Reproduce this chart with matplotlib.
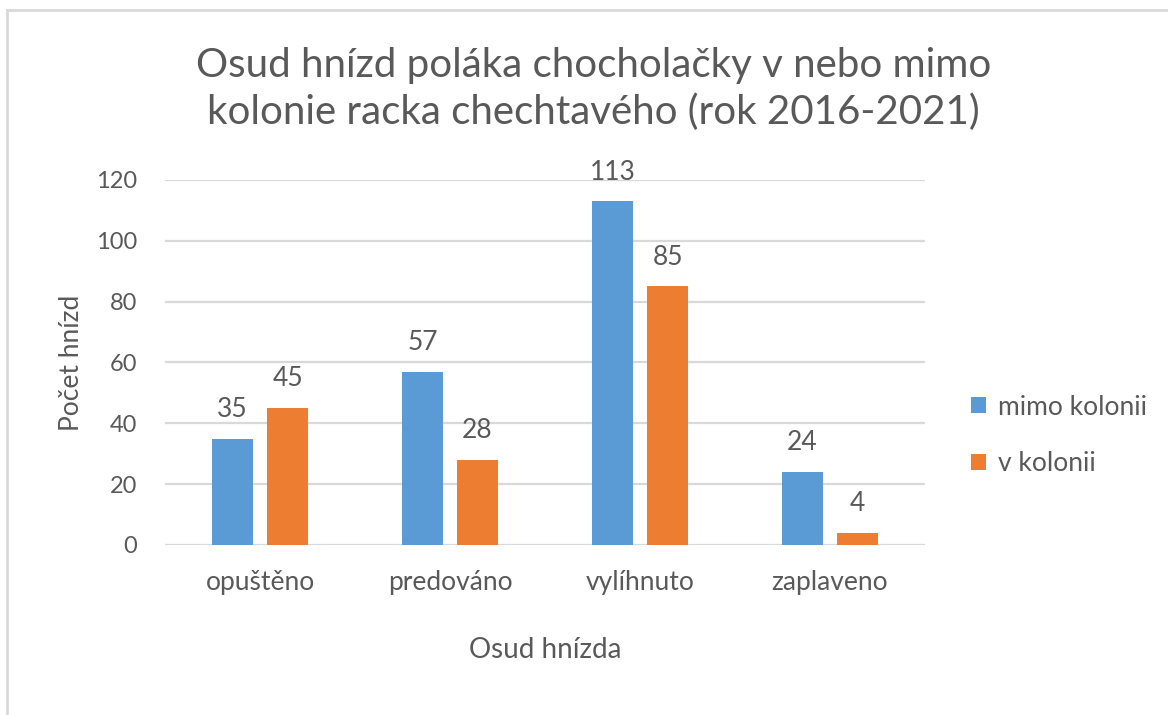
import matplotlib.pyplot as plt
import numpy as np
from matplotlib.lines import Line2D

# --- data ---
categories = ["opuštěno", "predováno", "vylíhnuto", "zaplaveno"]
mimo_kolonii = [35, 57, 113, 24]
v_kolonii = [45, 28, 85, 4]
series_names = ["mimo kolonii", "v kolonii"]

TXT = "#595959"
plt.rcParams["font.family"] = ["Lato", "DejaVu Sans"]

fig = plt.figure(figsize=(11.68, 7.15), dpi=100)
ax = fig.add_axes([0.1413, 0.2378, 0.6506, 0.5105])

x = np.arange(len(categories))
w = 0.22
b1 = ax.bar(x - 0.145, mimo_kolonii, w, color="#5B9BD5", label=series_names[0], zorder=3)
b2 = ax.bar(x + 0.145, v_kolonii, w, color="#ED7D31", label=series_names[1], zorder=3)

for bars in (b1, b2):
    ax.bar_label(bars, padding=12, fontsize=19, color=TXT)

ax.set_xlim(-0.5, 3.5)
ax.set_ylim(0, 120)
ax.set_yticks(range(0, 121, 20))
ax.set_xticks(x)
ax.set_xticklabels(categories)
ax.tick_params(axis="y", length=0, labelsize=17, labelcolor=TXT, pad=20)
ax.tick_params(axis="x", length=0, labelsize=19, labelcolor=TXT, pad=18)
ax.grid(axis="y", color="#d9d9d9", linewidth=1.6, zorder=0)
for s in ax.spines.values():
    s.set_visible(False)

ax.set_ylabel("Počet hnízd", fontsize=19, color=TXT, labelpad=9)
ax.set_xlabel("Osud hnízda", fontsize=20, color=TXT, labelpad=30)

fig.text(0.508, 0.875, "Osud hnízd poláka chocholačky v nebo mimo\nkolonie racka chechtavého (rok 2016-2021)",
         ha="center", va="center", fontsize=29, color=TXT, linespacing=1.3)

leg = ax.legend(loc="center left", bbox_to_anchor=(1.03, 0.30), frameon=False,
                fontsize=19, handlelength=0.55, handleheight=0.55, handletextpad=0.45,
                labelspacing=1.2, labelcolor=TXT)

# chart frame
fig.add_artist(Line2D([7 / 1168, 7 / 1168], [0, 1 - 10 / 715], transform=fig.transFigure,
                      color="#d9d9d9", linewidth=2))
fig.add_artist(Line2D([7 / 1168, 1], [1 - 10 / 715, 1 - 10 / 715], transform=fig.transFigure,
                      color="#d9d9d9", linewidth=2))

fig.savefig("out.png", dpi=100)
